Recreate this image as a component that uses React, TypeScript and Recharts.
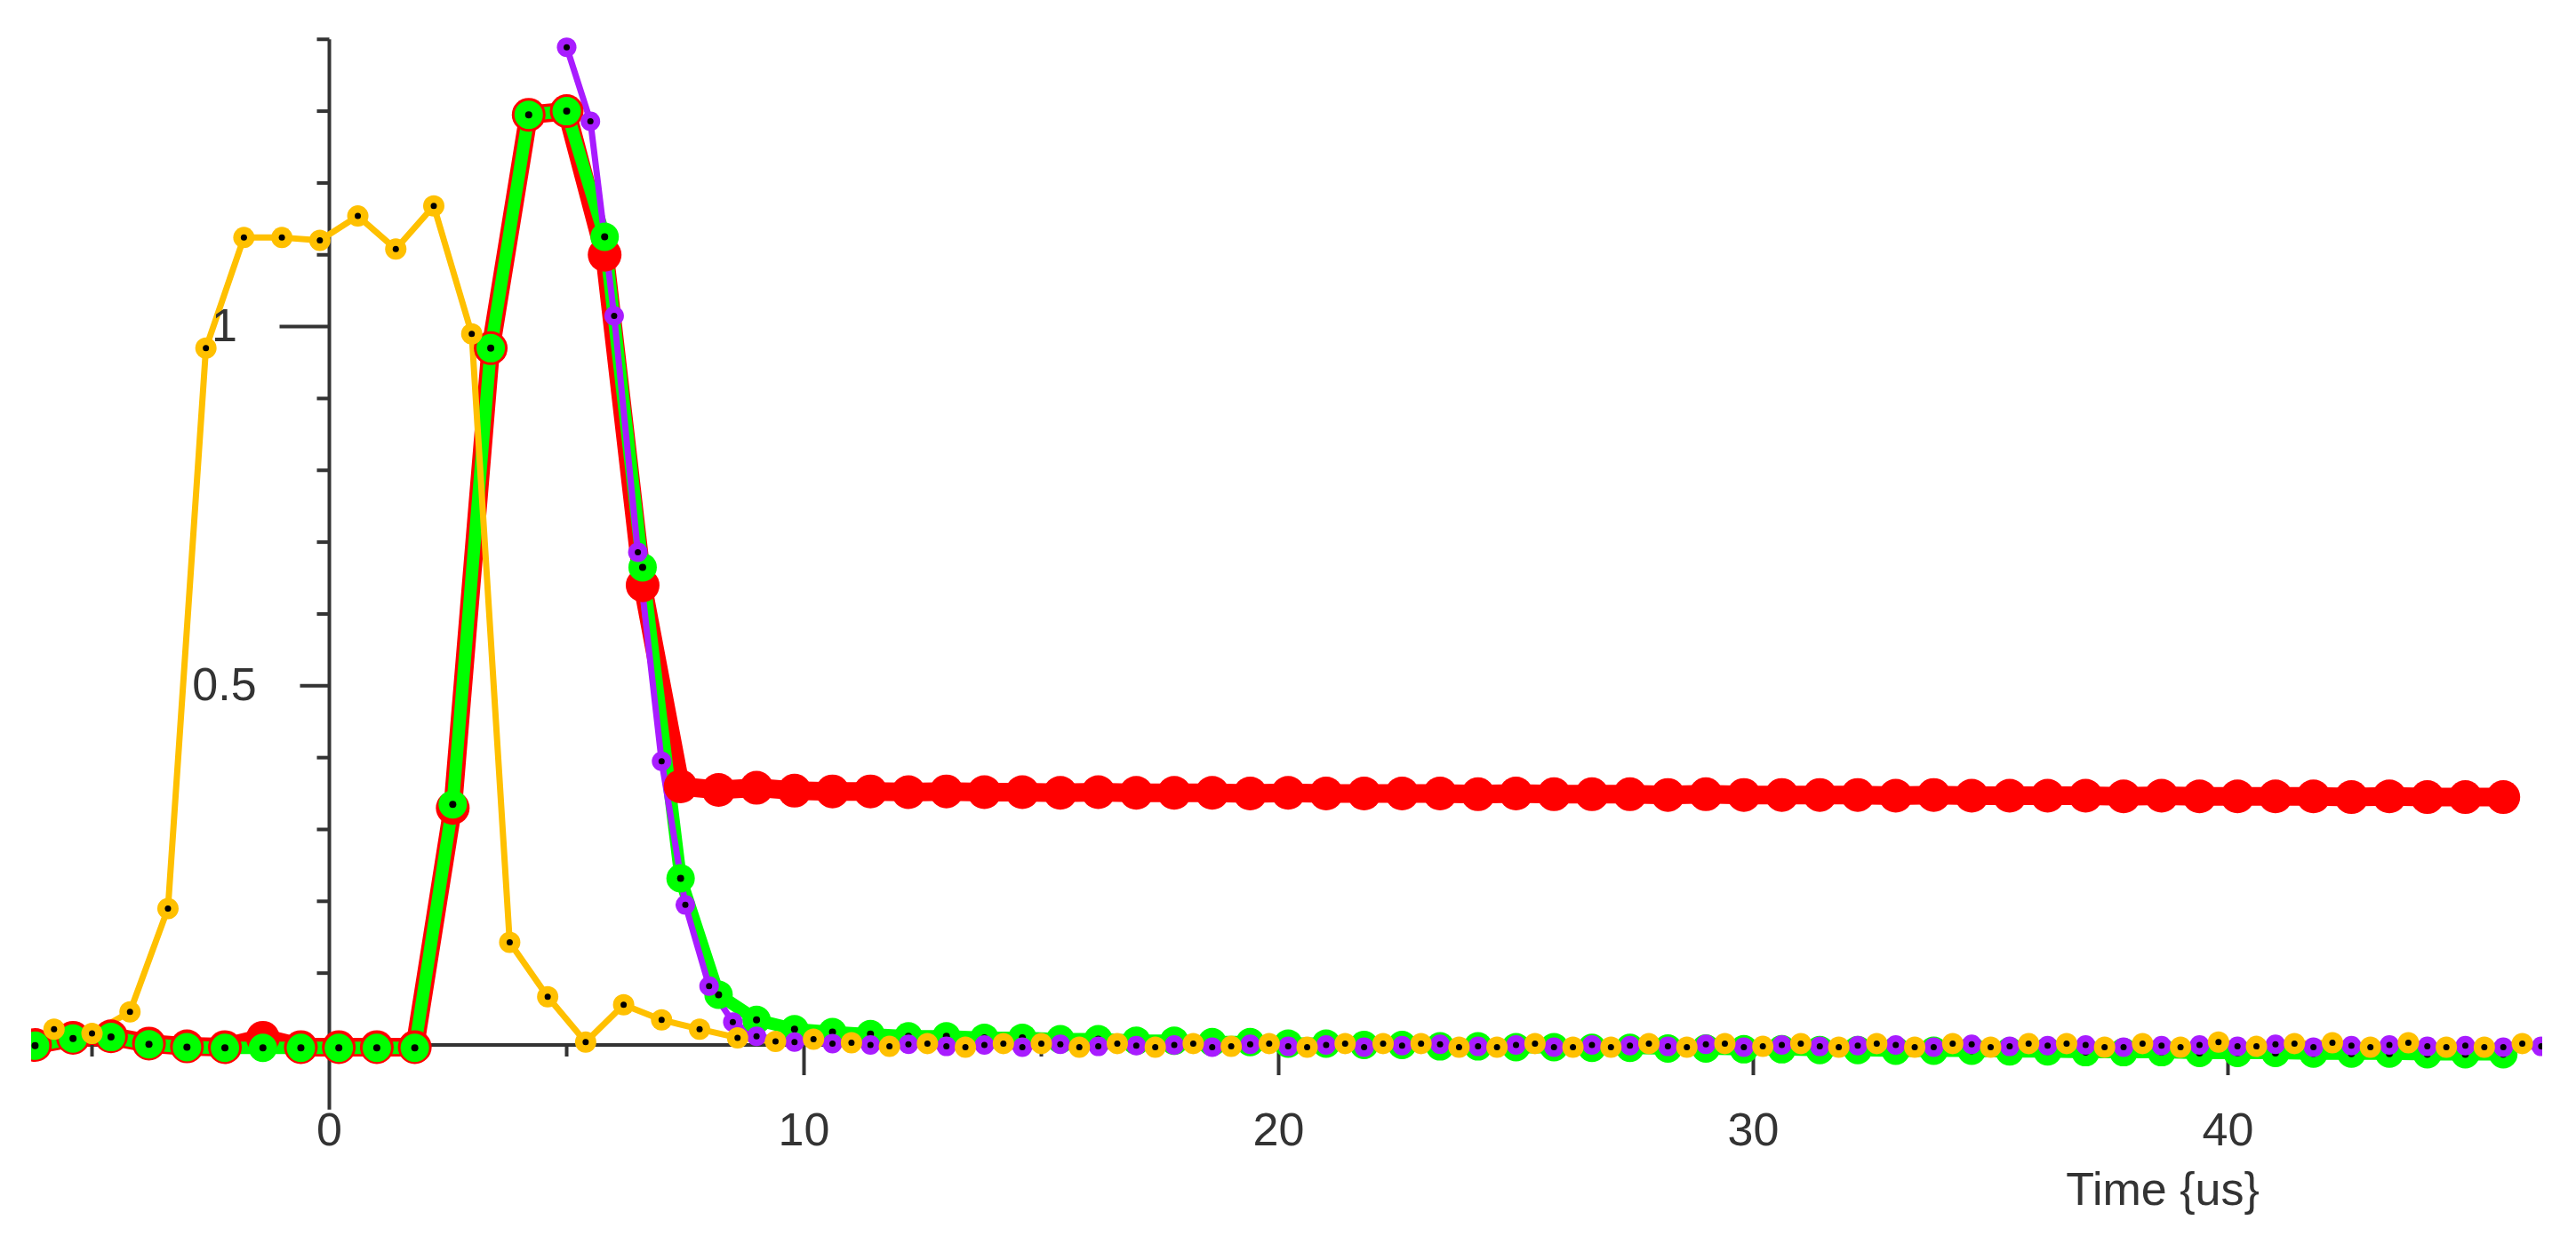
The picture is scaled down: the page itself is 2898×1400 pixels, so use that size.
// App.tsx - pulse traces (oscilloscope style), axes crossing at the origin
import React from "react";
import { LineChart, Line, XAxis, YAxis, ReferenceLine, ReferenceDot } from "recharts";

// sample times (us) of the red and green traces
const T_RG = [
  -6.2, -5.4, -4.6, -3.8, -3.0, -2.2, -1.4, -0.6, 0.2, 1.0,
  1.8, 2.6, 3.4, 4.2, 5.0, 5.8, 6.6, 7.4, 8.2, 9.0,
  9.8, 10.6, 11.4, 12.2, 13.0, 13.8, 14.6, 15.4, 16.2, 17.0,
  17.8, 18.6, 19.4, 20.2, 21.0, 21.8, 22.6, 23.4, 24.2, 25.0,
  25.8, 26.6, 27.4, 28.2, 29.0, 29.8, 30.6, 31.4, 32.2, 33.0,
  33.8, 34.6, 35.4, 36.2, 37.0, 37.8, 38.6, 39.4, 40.2, 41.0,
  41.8, 42.6, 43.4, 44.2, 45.0, 45.8,
];

const RED = [
  0.0, 0.01, 0.012, 0.002, -0.002, -0.003, 0.01, -0.003, -0.003, -0.003,
  -0.003, 0.33, 0.97, 1.295, 1.3, 1.1, 0.64, 0.36, 0.355, 0.358,
  0.354, 0.353, 0.353, 0.352, 0.353, 0.352, 0.352, 0.351, 0.352, 0.351,
  0.351, 0.351, 0.35, 0.351, 0.35, 0.35, 0.35, 0.35, 0.349, 0.35,
  0.349, 0.349, 0.349, 0.348, 0.349, 0.348, 0.348, 0.348, 0.348, 0.347,
  0.348, 0.347, 0.347, 0.347, 0.347, 0.346, 0.347, 0.346, 0.346, 0.346,
  0.346, 0.345, 0.346, 0.345, 0.345, 0.345,
];

const GREEN = [
  -0.001, 0.009, 0.011, 0.001, -0.003, -0.004, -0.004, -0.004, -0.004, -0.004,
  -0.004, 0.335, 0.97, 1.295, 1.3, 1.125, 0.665, 0.232, 0.07, 0.035,
  0.022, 0.018, 0.015, 0.012, 0.012, 0.01, 0.01, 0.008, 0.008, 0.006,
  0.006, 0.004, 0.004, 0.002, 0.002, 0.0, 0.0, -0.002, -0.002, -0.003,
  -0.003, -0.004, -0.004, -0.005, -0.005, -0.006, -0.006, -0.007, -0.007, -0.008,
  -0.008, -0.008, -0.009, -0.009, -0.01, -0.01, -0.01, -0.011, -0.011, -0.011,
  -0.012, -0.012, -0.012, -0.013, -0.013, -0.013,
];

// purple trace starts late, finer sampling on the falling edge
const T_PURPLE = [
  5.0, 5.5, 6.0, 6.5, 7.0, 7.5, 8.0, 8.5, 9.0,
  9.8, 10.6, 11.4, 12.2, 13.0, 13.8, 14.6, 15.4, 16.2, 17.0,
  17.8, 18.6, 19.4, 20.2, 21.0, 21.8, 22.6, 23.4, 24.2, 25.0,
  25.8, 26.6, 27.4, 28.2, 29.0, 29.8, 30.6, 31.4, 32.2, 33.0,
  33.8, 34.6, 35.4, 36.2, 37.0, 37.8, 38.6, 39.4, 40.2, 41.0,
  41.8, 42.6, 43.4, 44.2, 45.0, 45.8, 46.6,
];

const PURPLE = [
  1.389, 1.286, 1.015, 0.686, 0.395, 0.195, 0.082, 0.032, 0.012,
  0.004, 0.002, 0.0, 0.001, -0.002, 0.0, -0.003, 0.001, -0.002, -0.001,
  0.0, -0.003, 0.001, -0.002, 0.0, -0.003, -0.001, 0.001, -0.002, 0.0,
  -0.003, 0.0, -0.001, -0.002, 0.001, -0.003, 0.0, -0.002, -0.001, 0.0,
  -0.003, 0.001, -0.002, -0.001, 0.0, -0.003, -0.001, 0.0, -0.002, 0.001,
  -0.003, -0.001, 0.0, -0.002, -0.001, -0.003, -0.002,
];

const T_YELLOW = [
  -5.8, -5.0, -4.2, -3.4, -2.6, -1.8, -1.0, -0.2, 0.6, 1.4,
  2.2, 3.0, 3.8, 4.6, 5.4, 6.2, 7.0, 7.8, 8.6, 9.4,
  10.2, 11.0, 11.8, 12.6, 13.4, 14.2, 15.0, 15.8, 16.6, 17.4,
  18.2, 19.0, 19.8, 20.6, 21.4, 22.2, 23.0, 23.8, 24.6, 25.4,
  26.2, 27.0, 27.8, 28.6, 29.4, 30.2, 31.0, 31.8, 32.6, 33.4,
  34.2, 35.0, 35.8, 36.6, 37.4, 38.2, 39.0, 39.8, 40.6, 41.4,
  42.2, 43.0, 43.8, 44.6, 45.4, 46.2,
];

const YELLOW = [
  0.022, 0.016, 0.046, 0.19, 0.97, 1.124, 1.124, 1.12, 1.154, 1.108,
  1.168, 0.99, 0.143, 0.067, 0.004, 0.056, 0.035, 0.022, 0.01, 0.005,
  0.008, 0.003, -0.002, 0.002, -0.003, 0.002, 0.002, -0.003, 0.002, -0.003,
  0.002, -0.002, 0.002, -0.003, 0.002, 0.002, 0.002, -0.003, -0.003, 0.002,
  -0.003, -0.003, 0.002, -0.003, 0.002, -0.002, 0.002, -0.003, 0.002, -0.003,
  0.002, -0.003, 0.002, 0.002, -0.003, 0.002, -0.003, 0.004, -0.002, 0.002,
  0.003, -0.003, 0.003, -0.003, -0.003, 0.002,
];

// axis ticks
const X_LABELS = [0, 10, 20, 30, 40];
const X_MINOR = [-5, 5, 15, 25, 35, 45];
const Y_LABELS = [0.5, 1];
const Y_MINOR = [0.1, 0.2, 0.3, 0.4, 0.6, 0.7, 0.8, 0.9, 1.1, 1.2, 1.3, 1.4];

const AXIS = "#333333";
const FONT = "'Liberation Sans', Arial, sans-serif";

const toPoints = (t: number[], v: number[]) => t.map((x, i) => ({ x, y: v[i] }));

// coloured circle with a small black centre, like the scope markers
function marker(name: string, fill: string, r: number, core: number) {
  return (p: any) => {
    if (p.cx == null || p.cy == null) return <g key={`${name}-${p.index}`} />;
    return (
      <g key={`${name}-${p.index}`}>
        <circle cx={p.cx} cy={p.cy} r={r} fill={fill} />
        {core > 0 && <circle cx={p.cx} cy={p.cy} r={core} fill="#000" />}
      </g>
    );
  };
}

const xTick = (len: number, label?: string) => (p: any) => (
  <g>
    {len > 0 && (
      <line x1={p.cx} y1={p.cy} x2={p.cx} y2={p.cy + len} stroke={AXIS} strokeWidth={4} />
    )}
    {label && (
      <text x={p.cx} y={p.cy + 113} textAnchor="middle" fontSize={52} fontFamily={FONT} fill={AXIS}>
        {label}
      </text>
    )}
  </g>
);

const yTick = (len: number, label?: string) => (p: any) => (
  <g>
    <line x1={p.cx - len} y1={p.cy} x2={p.cx} y2={p.cy} stroke={AXIS} strokeWidth={4} />
    {label && (
      <text x={p.cx - 118} y={p.cy + 16} textAnchor="middle" fontSize={52} fontFamily={FONT} fill={AXIS}>
        {label}
      </text>
    )}
  </g>
);

export default function App() {
  return (
    <div style={{ position: "absolute", left: 0, top: 0, width: 2898, height: 1400, background: "#fff" }}>
      <LineChart width={2898} height={1400} margin={{ top: 20, right: 38, bottom: 127, left: 35 }}>
        <XAxis type="number" dataKey="x" domain={[-6.283, 46.62]} hide allowDataOverflow />
        <YAxis type="number" dataKey="y" domain={[-0.12, 1.43]} hide allowDataOverflow />

        {/* axes cross at (0, 0) */}
        <ReferenceLine segment={[{ x: -6.283, y: 0 }, { x: 46.62, y: 0 }]} stroke={AXIS} strokeWidth={4} />
        <ReferenceLine segment={[{ x: 0, y: -0.09 }, { x: 0, y: 1.4 }]} stroke={AXIS} strokeWidth={4} />

        {X_MINOR.map((v) => (
          <ReferenceDot key={`xm${v}`} x={v} y={0} r={1} shape={xTick(13)} />
        ))}
        {X_LABELS.map((v) => (
          <ReferenceDot key={`xl${v}`} x={v} y={0} r={1} shape={xTick(v === 0 ? 0 : 34, String(v))} />
        ))}
        {Y_MINOR.map((v) => (
          <ReferenceDot key={`ym${v}`} x={0} y={v} r={1} shape={yTick(14)} />
        ))}
        {Y_LABELS.map((v) => (
          <ReferenceDot key={`yl${v}`} x={0} y={v} r={1} shape={yTick(v === 1 ? 56 : 33, String(v))} />
        ))}

        <Line
          data={toPoints(T_RG, RED)}
          dataKey="y"
          type="linear"
          stroke="#FF0000"
          strokeWidth={21}
          strokeLinejoin="round"
          dot={marker("red", "#FF0000", 19, 0)}
          activeDot={false}
          isAnimationActive={false}
        />
        <Line
          data={toPoints(T_RG, GREEN)}
          dataKey="y"
          type="linear"
          stroke="#00FF00"
          strokeWidth={14}
          strokeLinejoin="round"
          dot={marker("green", "#00FF00", 16, 4)}
          activeDot={false}
          isAnimationActive={false}
        />
        <Line
          data={toPoints(T_PURPLE, PURPLE)}
          dataKey="y"
          type="linear"
          stroke="#A81CFF"
          strokeWidth={7}
          strokeLinejoin="round"
          dot={marker("purple", "#A81CFF", 11, 3.5)}
          activeDot={false}
          isAnimationActive={false}
        />
        <Line
          data={toPoints(T_YELLOW, YELLOW)}
          dataKey="y"
          type="linear"
          stroke="#FFC000"
          strokeWidth={7}
          strokeLinejoin="round"
          dot={marker("yellow", "#FFC000", 12, 3.5)}
          activeDot={false}
          isAnimationActive={false}
        />
      </LineChart>

      {/* axis title, bottom right */}
      <div
        style={{
          position: "absolute",
          left: 2233,
          top: 1306,
          width: 400,
          textAlign: "center",
          fontFamily: FONT,
          fontSize: 52,
          lineHeight: "64px",
          color: AXIS,
        }}
      >
        Time {"{us}"}
      </div>
    </div>
  );
}
